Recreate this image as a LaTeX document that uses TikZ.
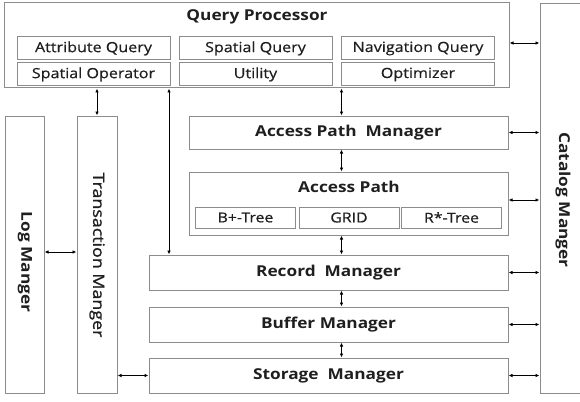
\documentclass[tikz,border=0pt]{standalone}
\usepackage{fontspec}
\setmainfont{Open Sans}[FakeStretch=1.15]
\newfontfamily\midfont{Open Sans}[FakeStretch=1.15,FakeBold=1.2]
\newfontfamily\subfont{Open Sans}[FakeStretch=1.15,FakeBold=0.5]
\usetikzlibrary{arrows.meta}
\usetikzlibrary{positioning}
\definecolor{boxline}{rgb}{0.55,0.55,0.55}
\definecolor{mytextcolor}{rgb}{0.12,0.12,0.12}

\begin{document}
\begin{tikzpicture}[x=1pt,y=-1pt,
  box/.style={draw=boxline, line width=1pt, inner sep=0pt, text=mytextcolor},
  subbox/.style={box, minimum width=153pt, minimum height=23pt, font=\subfont\fontsize{14}{15}\selectfont},
  treebox/.style={box, minimum width=100pt, minimum height=21pt, font=\subfont\fontsize{13.8}{15}\selectfont},
  layer/.style={box, minimum width=359pt, minimum height=35pt, font=\bfseries\fontsize{15}{16}\selectfont},
  title/.style={inner sep=0pt, text=mytextcolor, font=\bfseries\fontsize{15}{16}\selectfont},
  link/.style={{Latex[length=4pt,width=3.5pt]}-{Latex[length=4pt,width=3.5pt]}, line width=0.8pt}]
\useasboundingbox (0,0) rectangle (580,401);
\node[box, minimum width=505pt, minimum height=85pt] (qp) at (256.5,45.5) {};
\node[title] (qptitle) at (257,17) {Query Processor};
\node[subbox] (attr) at (93.5,48.5) {Attribute Query};
\node[subbox] (spat) at (255.5,48.5) {Spatial Query};
\node[subbox] (navi) at (418,48.5) {Navigation Query};
\node[subbox] (oper) at (93.5,74.5) {Spatial Operator};
\node[subbox] (util) at (255.5,74.5) {Utility};
\node[subbox] (opti) at (418,74.5) {Optimizer};
\node[box, minimum width=45pt, minimum height=389pt] (cat) at (562.5,198.5) {};
\node[title, rotate=-90] (cattext) at (563,200) {Catalog Manger};
\node[box, minimum width=39pt, minimum height=277pt] (log) at (24.5,254.5) {};
\node[title, rotate=-90] (logtext) at (25,262) {Log Manger};
\node[box, minimum width=40pt, minimum height=277pt] (trans) at (97,254.5) {};
\node[title, font=\midfont\fontsize{15.5}{16}\selectfont, rotate=-90] (transtext) at (97,255) {Transaction Manger};
\node[layer, minimum width=319pt, minimum height=33pt] (apm) at (348.5,132.5) {Access Path\ \ Manager};
\node[box, minimum width=319pt, minimum height=63pt] (ap) at (348.5,203.5) {};
\node[title] (aptitle) at (349,187) {Access Path};
\node[treebox] (btree) at (245.5,217.5) {B+-Tree};
\node[treebox] (grid) at (349,217.5) {GRID};
\node[treebox] (rtree) at (451.5,217.5) {R*-Tree};
\node[layer] (rec) at (328.5,272.5) {Record\ \ Manager};
\node[layer] (buf) at (328.5,324.5) {Buffer Manager};
\node[layer] (sto) at (328.5,375.5) {Storage\ \ Manager};
\coordinate (spine) at (341.5,0);
\coordinate (qpdown) at (169,0);
\draw[link] (qp.south -| trans) -- (trans.north);
\draw[link] (qp.south -| qpdown) -- (rec.north -| qpdown);
\draw[link] (qp.south -| spine) -- (apm.north -| spine);
\draw[link] (apm.south -| spine) -- (ap.north -| spine);
\draw[link] (ap.south -| spine) -- (rec.north -| spine);
\draw[link] (rec.south -| spine) -- (buf.north -| spine);
\draw[link] (buf.south -| spine) -- (sto.north -| spine);
\draw[link] ([yshift=2.5pt]qp.east) -- ([yshift=2.5pt]qp.east -| cat.west);
\draw[link] (apm.east) -- (apm.east -| cat.west);
\draw[link] ([yshift=3.5pt]ap.east) -- ([yshift=3.5pt]ap.east -| cat.west);
\draw[link] (rec.east) -- (rec.east -| cat.west);
\draw[link] (buf.east) -- (buf.east -| cat.west);
\draw[link] (sto.east) -- (sto.east -| cat.west);
\draw[link] ([yshift=2.5pt]log.east) -- ([yshift=2.5pt]trans.west);
\draw[link] (sto.west -| trans.east) -- (sto.west);
\end{tikzpicture}
\end{document}
